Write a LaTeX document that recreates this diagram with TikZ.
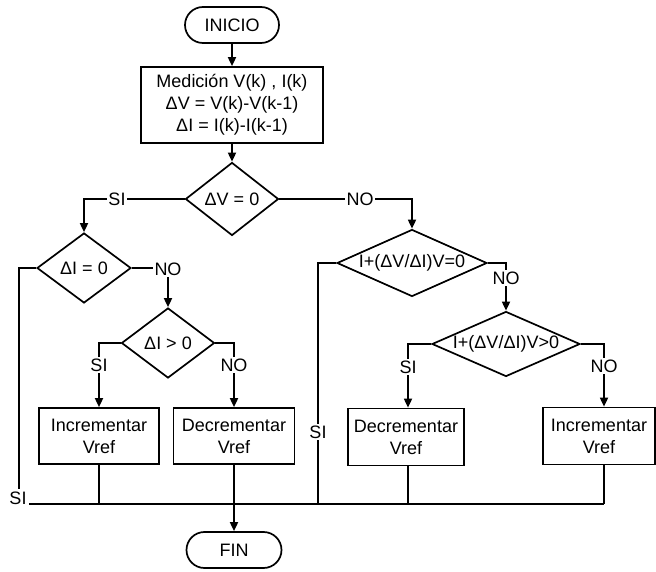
\documentclass[tikz,border=0pt]{standalone}
\usepackage{fontspec}
\setmainfont{Liberation Sans}
\usetikzlibrary{shapes.geometric,arrows.meta}
\begin{document}
\begin{tikzpicture}[x=1pt,y=-1pt,
  font=\fontsize{18}{22}\selectfont,
  line width=1.7pt,
  arr/.style={-{Triangle[length=9pt,width=8pt]}},
  term/.style={draw,rounded corners=18pt,minimum width=94pt,minimum height=36pt,inner sep=0pt},
  proc/.style={draw,minimum height=56pt,align=center,inner sep=0pt},
  dec/.style={draw,diamond,inner sep=0pt},
  lab/.style={fill=white,inner sep=1.5pt}
]
\useasboundingbox (0,0) rectangle (656,572);

% nodes
\node[term] (ini) at (232,25) {INICIO};
\node[draw,minimum width=182pt,minimum height=76pt,align=center,inner sep=0pt] (p) at (232,105)
  {Medición V(k) , I(k)\\ΔV = V(k)-V(k-1)\\ΔI = I(k)-I(k-1)};
\node[dec,minimum width=93pt,minimum height=73pt,label=center:{ΔV = 0}] (d0) at (232,199) {};
\node[dec,minimum width=94pt,minimum height=70pt,label=center:{ΔI = 0}] (dI0) at (84,268) {};
\node[dec,minimum width=93pt,minimum height=70pt,label=center:{ΔI > 0}] (dIg) at (168,343) {};
\node[dec,minimum width=150pt,minimum height=67pt,label=center:{I+(ΔV/ΔI)V=0}] (d2) at (412,263) {};
\node[dec,minimum width=148pt,minimum height=65pt,label=center:{I+(ΔV/ΔI)V>0}] (d3) at (506,344) {};
\node[proc,minimum width=120pt] (b1) at (99,436) {Incrementar\\Vref};
\node[proc,minimum width=121pt] (b2) at (234,436) {Decrementar\\Vref};
\node[proc,minimum width=116pt,minimum height=57pt] (b3) at (406,437) {Decrementar\\Vref};
\node[proc,minimum width=112pt,minimum height=57pt] (b4) at (599,436) {Incrementar\\Vref};
\node[term,minimum width=95pt] (fin) at (234,550) {FIN};

% helper coordinates
\coordinate (x318) at (318,0);
\coordinate (x408) at (408,0);
\coordinate (x604) at (604,0);
\coordinate (busL) at (19,504);
\coordinate (busR) at (604,504);

% connectors
\draw[arr] (ini) -- (p);
\draw[arr] (p) -- (d0);
\draw[arr] (d0.west) -| (dI0.north);
\draw[arr] (d0.east) -| (d2.north);
\draw[arr] (dI0.east) -| (dIg.north);
\draw[arr] (dIg.west) -| (b1.north);
\draw[arr] (dIg.east) -| (b2.north);
\draw[arr] (d2.east) -| (d3.north);
\draw[arr] (d3.west) -| (b3.north -| x408);
\draw[arr] (d3.east) -| (b4.north -| x604);

\draw (dI0.west) -| (busL) -- (busR);
\draw (d2.west) -| (x318 |- busL);
\draw (b1.south) -- (b1.south |- busL);
\draw (b3.south -| x408) -- (x408 |- busL);
\draw (b4.south -| x604) -- (busR);
\draw[arr] (b2.south) -- (fin.north);

% labels on connectors
\node[lab] (l1) at (117,199) {SI};
\node[lab] (l2) at (360,199) {NO};
\node[lab] (l3) at (168,269) {NO};
\node[lab] (l4) at (99,365) {SI};
\node[lab] (l5) at (234,365) {NO};
\node[lab] (l6) at (318,432) {SI};
\node[lab] (l7) at (506,278) {NO};
\node[lab] (l8) at (408,367) {SI};
\node[lab] (l9) at (604,366) {NO};
\node[lab,anchor=base,inner sep=2pt] (l10) at (18,504) {SI};
\end{tikzpicture}
\end{document}
